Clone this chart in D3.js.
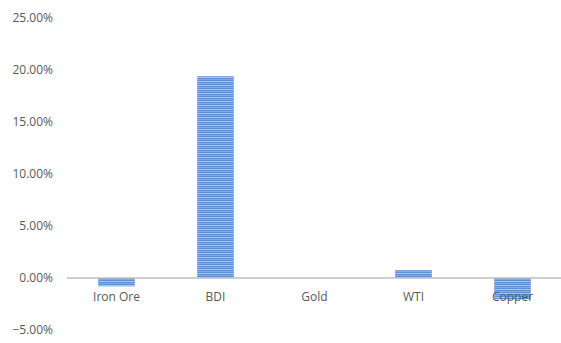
<!DOCTYPE html>
<html><head><meta charset="utf-8">
<script src="https://cdn.jsdelivr.net/npm/d3@7"></script>
<style>body{margin:0;background:#fff}svg{display:block}</style>
</head><body><div id="chart"></div>
<script>
const categories = ["Iron Ore","BDI","Gold","WTI","Copper"];
const values = [-0.008, 0.194, 0.0, 0.0075, -0.0205];
const yTicks = [-0.05, 0, 0.05, 0.10, 0.15, 0.20, 0.25];

const W = 561, H = 343;
const svg = d3.select("#chart").append("svg").attr("width", W).attr("height", H);
const defs = svg.append("defs");
const pat = defs.append("pattern").attr("id","stripe").attr("patternUnits","userSpaceOnUse")
  .attr("width",4).attr("height",4);
pat.append("rect").attr("width",4).attr("height",4).attr("fill","#5f8fd4");
pat.append("rect").attr("y",1).attr("width",4).attr("height",1).attr("fill","#a9c3ea");
pat.append("rect").attr("y",3).attr("width",4).attr("height",1).attr("fill","#86aade");

const x = d3.scaleBand().domain(categories).range([67, 562]).paddingInner(0.63).paddingOuter(0.315);
const y = d3.scaleLinear().domain([-0.05, 0.25]).range([330, 18]);

const fmt = d => d3.format(".2f")(d*100) + "%";
svg.append("g").selectAll("text").data(yTicks).join("text")
  .attr("x", 53).attr("y", d => y(d)).attr("dy","0.35em").attr("text-anchor","end")
  .attr("font-family","Open Sans, sans-serif").attr("font-size","12px").attr("fill","#595959")
  .text(fmt);

svg.append("g").selectAll("rect").data(values).join("rect")
  .attr("x",(d,i)=>x(categories[i])).attr("width",x.bandwidth())
  .attr("y",d=>y(Math.max(0,d))).attr("height",d=>Math.abs(y(d)-y(0)))
  .attr("fill","url(#stripe)");

svg.append("line").attr("x1",67).attr("x2",562).attr("y1",y(0)).attr("y2",y(0))
  .attr("stroke","#bfbfbf").attr("stroke-width",1.5);

const xAxis = d3.axisBottom(x).tickSize(0).tickPadding(0);
const gx = svg.append("g").attr("transform",`translate(0,${y(0)})`).call(xAxis);
gx.select(".domain").remove();
gx.selectAll("text").attr("y",23).attr("dy","0").attr("font-family","Open Sans, sans-serif")
  .attr("font-size","12px").attr("fill","#595959");
</script></body></html>
